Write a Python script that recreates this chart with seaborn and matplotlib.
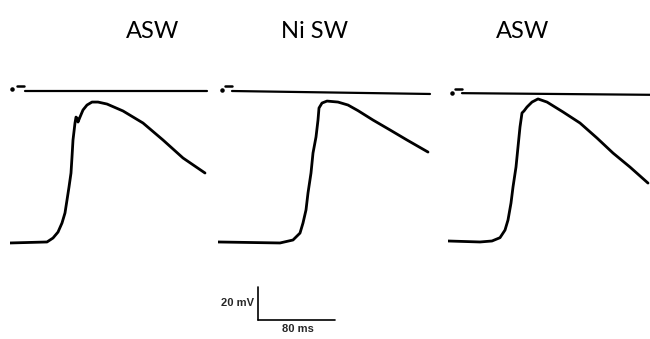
import matplotlib
matplotlib.use("Agg")
import matplotlib.pyplot as plt
import seaborn as sns
import pandas as pd

sns.set_theme(style="white")
plt.rcParams['font.family'] = ['Lato', 'DejaVu Sans']

# ---- data (time in ms, membrane potential in mV) ----
titles = ["ASW", "Ni SW", "ASW"]

t1 = [0, 37, 43, 48, 52, 55, 57, 59, 61, 62, 63, 65, 66, 67, 68, 70, 73, 77, 82, 88,
      97, 113, 133, 153, 173, 195]
v1 = [-91.8, -91.2, -88.8, -85.2, -79.7, -73.6, -65.8, -57.9, -49.4, -39.7, -29.4, -19.1,
      -15.5, -16.1, -18.5, -15.5, -11.2, -8.2, -6.4, -6.4, -7.6, -11.8, -19.1, -29.4,
      -40.3, -49.4]

t2 = [0, 62, 75, 82, 85, 88, 90, 93, 95, 98, 100, 101, 104, 109, 120, 130, 140, 155,
      172, 189, 210]
v2 = [-91.2, -91.8, -90, -85.8, -79.7, -71.8, -61.5, -49.4, -37.3, -27.6, -17.3, -10,
      -7, -5.8, -6.4, -8.2, -11.6, -17.3, -23.3, -29.4, -36.7]

t3 = [0, 32, 44, 52, 57, 60, 63, 65, 68, 70, 72, 74, 76, 79, 84, 90, 99, 115, 132, 149,
      165, 182, 200]
v3 = [-90.6, -91.2, -90.6, -88.6, -84, -77.9, -67.6, -57.9, -45.8, -33.6, -21.5, -13,
      -11.8, -9.4, -6.4, -4.5, -6.4, -12.4, -19.1, -28.2, -37.3, -45.8, -55.5]

# zero-potential reference traces
z_t = [[15, 197], [14, 212], [14, 202]]
z_v = [[0.3, 0.3], [0.3, -1.5], [-1.0, -2.0]]
# calibration dash + dot at start of each reference trace
dash_t = [[7, 14], [7, 14], [7, 14]]
dash_v = [[3.3, 3.3], [3.3, 3.3], [1.8, 1.8]]
dot_t = [2, 4, 4]
dot_v = [1.5, 1.0, -1.0]

scale_mv = 20
scale_ms = 80

traces = [(t1, v1), (t2, v2), (t3, v3)]

# ---- layout (pixels) ----
W, H = 650, 339
fig = plt.figure(figsize=(W / 100, H / 100), dpi=100)
fig.patch.set_facecolor("white")

lefts = [10, 218, 448]
widths = [200, 215, 202]
top_px, bot_px = 80, 250
px_per_mv = 1.65
zero_px = 91.5
v_top = (zero_px - top_px) / px_per_mv
v_bot = (zero_px - bot_px) / px_per_mv

axes = []
for i, ((t, v), L, Wd) in enumerate(zip(traces, lefts, widths)):
    ax = fig.add_axes([L / W, (H - bot_px) / H, Wd / W, (bot_px - top_px) / H])
    ax.set_xlim(0, Wd)
    ax.set_ylim(v_bot, v_top)
    ax.axis("off")
    df = pd.DataFrame({"t": t, "v": v})
    sns.lineplot(data=df, x="t", y="v", ax=ax, color="black", lw=2.0, sort=False)
    sns.lineplot(x=z_t[i], y=z_v[i], ax=ax, color="black", lw=1.6)
    sns.lineplot(x=dash_t[i], y=dash_v[i], ax=ax, color="black", lw=1.8)
    ax.scatter([dot_t[i]], [dot_v[i]], s=5, color="black", zorder=3)
    axes.append(ax)

# titles
title_x = [153, 315, 523]
for tx, s in zip(title_x, titles):
    fig.text(tx / W, 1 - 32 / H, s, ha="center", va="center", fontsize=17, color="black")

# scale bar in panel-2 data coordinates
ax = axes[1]
sb_t0 = 40
sb_v0 = (zero_px - 320) / px_per_mv
ax.plot([sb_t0, sb_t0], [sb_v0, sb_v0 + scale_mv], color="black", lw=1.2, clip_on=False)
ax.plot([sb_t0, sb_t0 + scale_ms * 0.96], [sb_v0, sb_v0], color="black", lw=1.2, clip_on=False)
ax.text(sb_t0 - 4, sb_v0 + scale_mv / 2, f"{scale_mv} mV", ha="right", va="center",
        fontsize=8, fontweight="bold", family=["Liberation Sans"], clip_on=False)
ax.text(sb_t0 + scale_ms / 2, sb_v0 - 2.5, f"{scale_ms} ms", ha="center", va="top",
        fontsize=8, fontweight="bold", family=["Liberation Sans"], clip_on=False)

fig.savefig("out.png", dpi=100, facecolor="white")
